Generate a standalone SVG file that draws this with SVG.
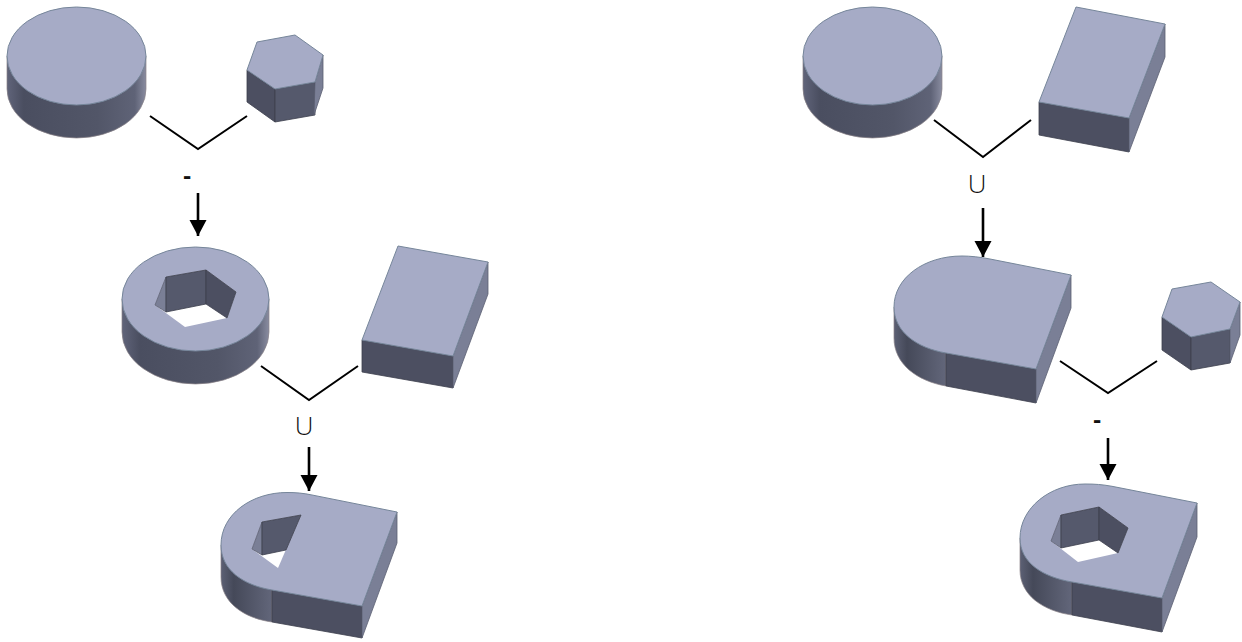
<svg xmlns="http://www.w3.org/2000/svg" width="1242" height="642" viewBox="0 0 1242 642">
<style>
text{font-family:"Open Sans","Liberation Sans",sans-serif;font-weight:300;fill:#111;text-anchor:middle}
.m{font-weight:700}
.t{fill:#a6abc6;stroke:#76869a;stroke-width:1;stroke-linejoin:round}
.f{fill:#55596c;stroke:#3c3f4d;stroke-width:.8;stroke-linejoin:round}
.d{fill:#4c4f61;stroke:#3c3f4d;stroke-width:.8;stroke-linejoin:round}
.l{fill:#7a7f96;stroke:#5c6072;stroke-width:.8;stroke-linejoin:round}
.c{fill:url(#cyl);stroke:#8a8288;stroke-width:.7}
.e{fill:url(#cur);stroke:#8a8288;stroke-width:.7}
.w{fill:#fff;stroke:none}
.v{fill:none;stroke:#000;stroke-width:2}
.s{fill:#000;stroke:#000;stroke-width:2.6}
</style>
<defs>
<linearGradient id="cyl" x1="0" x2="1" y1="0" y2="0">
<stop offset="0" stop-color="#60647a"/><stop offset=".12" stop-color="#4a4e60"/><stop offset=".65" stop-color="#525668"/><stop offset=".92" stop-color="#5f6377"/><stop offset="1" stop-color="#898ca0"/>
</linearGradient>
<linearGradient id="cur" x1="0" x2="1" y1="0" y2="0">
<stop offset="0" stop-color="#5c6074"/><stop offset=".25" stop-color="#454959"/><stop offset="1" stop-color="#62667a"/>
</linearGradient>
<marker id="ah" markerUnits="userSpaceOnUse" markerWidth="17" markerHeight="18" refX="16" refY="8.500" orient="auto"><path d="M0 0L16 8.500L0 17Z" fill="#000"/></marker>
</defs>

<g id="connectors">
<path class="v" d="M150 116L198 149L247 116"/>
<path class="v" d="M261 366L309 400L358 366"/>
<path class="v" d="M934 120L983 157L1031 120"/>
<path class="v" d="M1060 361L1108 393L1157 361"/>
<path class="s" marker-end="url(#ah)" d="M198 193V236"/>
<path class="s" marker-end="url(#ah)" d="M309 447V491"/>
<path class="s" marker-end="url(#ah)" d="M983 208V257"/>
<path class="s" marker-end="url(#ah)" d="M1108 438V480"/>
</g>

<g id="label-minus-left"><text class="m" x="187" y="184" font-size="24">-</text></g>
<g id="label-union-left"><text x="304" y="435" font-size="26">U</text></g>
<g id="label-union-right"><text x="977" y="193" font-size="26">U</text></g>
<g id="label-minus-right"><text class="m" x="1097" y="428" font-size="24">-</text></g>

<g id="cylinder-left">
<path class="c" d="M7 56V89A69.500 49 0 0 0 146 89V56Z"/>
<ellipse class="t" cx="76.500" cy="56" rx="69.500" ry="49"/>
</g>

<g id="hex-left">
<path class="d" d="M247 70L275 89V122L247 102Z"/>
<path class="f" d="M275 89L315 82V115L275 122Z"/>
<path class="l" d="M315 82L323 55V88L314 115Z"/>
<path class="t" d="M257 42L295 35L323 55L315 82L275 89L247 70Z"/>
</g>

<g id="ring">
<path class="c" d="M122 299V332A73.500 52 0 0 0 269 332V299Z"/>
<ellipse class="t" cx="195.500" cy="299" rx="73.500" ry="52"/>
<path class="w" d="M155 305L166 277L206 270L236 292L227 318L185 327Z"/>
<path class="l" d="M166 277L155 305L166 312Z"/>
<path class="f" d="M166 277L206 270V304L166 312Z"/>
<path class="d" d="M206 270L236 292L227 318L206 304Z"/>
</g>

<g id="box-left">
<path class="d" d="M362 340L453 356V388L362 372Z"/>
<path class="l" d="M453 356L488 262V294L453 388Z"/>
<path class="t" d="M398 246L488 262L453 356L362 340Z"/>
</g>

<g id="result-left">
<path class="e" d="M221 545V577C221 602 243 618 272 622V590Z"/>
<path class="d" d="M272 590L362 606V638L272 622Z"/>
<path class="l" d="M362 606L397 512V543L362 638Z"/>
<path class="t" d="M221 545C221 514 252 492.500 287 492.500C295 492.500 303 493 313 495.200L397 512L362 606L272 590C243 585 221 570 221 545Z"/>
<path class="w" d="M252 549L262 522L301 515L278 568Z"/>
<path class="l" d="M262 522L252 549L262 555Z"/>
<path class="f" d="M262 522L301 515L286 550L262 555Z"/>
</g>

<g id="cylinder-right">
<path class="c" d="M803 56V89A69.500 49 0 0 0 942 89V56Z"/>
<ellipse class="t" cx="872.500" cy="56" rx="69.500" ry="49"/>
</g>

<g id="box-right">
<path class="d" d="M1039 102L1129 118V152L1039 135Z"/>
<path class="l" d="M1129 118L1165 24V57L1129 152Z"/>
<path class="t" d="M1076 7L1165 24L1129 118L1039 102Z"/>
</g>

<g id="merged-right">
<path class="e" d="M894 307V338C894 364 917 381 946 386V353Z"/>
<path class="d" d="M946 353L1036 369V403L946 386Z"/>
<path class="l" d="M1036 369L1071 275V308L1036 403Z"/>
<path class="t" d="M894 307C894 278 924 256 962 256C970 256 980 257 990 259L1071 275L1036 369L946 353C917 348 894 332 894 307Z"/>
</g>

<g id="hex-right">
<path class="d" d="M1162 317L1191 337V370L1162 350Z"/>
<path class="f" d="M1191 337L1230 329V363L1191 370Z"/>
<path class="l" d="M1230 329L1240 302V335L1230 363Z"/>
<path class="t" d="M1172 289L1211 282L1240 302L1230 329L1191 337L1162 317Z"/>
</g>

<g id="result-right">
<path class="e" d="M1020 538V570C1020 595 1043 611 1072 615V582Z"/>
<path class="d" d="M1072 582L1162 598V632L1072 615Z"/>
<path class="l" d="M1162 598L1197 503V537L1162 632Z"/>
<path class="t" d="M1020 538C1020 508 1050 484 1085 484C1095 484 1102 484.500 1112 486.300L1197 503L1162 598L1072 582C1043 577 1020 563 1020 538Z"/>
<path class="w" d="M1051 541L1061 515L1099 507L1128 528L1118 553L1078 562Z"/>
<path class="l" d="M1061 515L1051 541L1061 548Z"/>
<path class="f" d="M1061 515L1099 507V540L1061 548Z"/>
<path class="d" d="M1099 507L1128 528L1118 553L1099 540Z"/>
</g>
</svg>
